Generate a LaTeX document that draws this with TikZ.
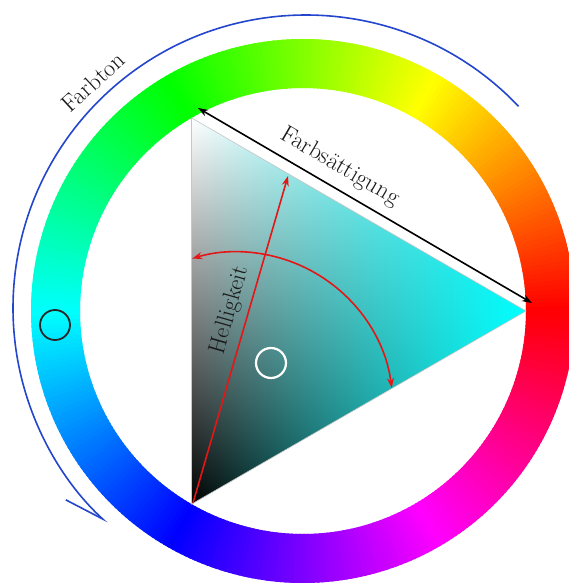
\documentclass[tikz,border=0pt]{standalone}
\usetikzlibrary{arrows.meta}
\definecolor{arcblue}{RGB}{35,70,205}
\definecolor{mred}{RGB}{228,22,22}
\begin{document}
\begin{tikzpicture}[x=1bp,y=1bp,
  lbl/.style={font=\fontsize{24}{28}\selectfont, inner sep=0pt, text=black!90},
  redarrow/.style={draw=mred, line width=1.6bp, >={Stealth[length=10bp,width=7bp]}},
  blackarrow/.style={draw=black, line width=1.6bp, >={Stealth[length=10bp,width=7bp]}},
  marker/.style={circle, minimum size=30bp, inner sep=0pt}]
\clip (-303,-273) rectangle (266,311);
\fill[white] (-303,-273) rectangle (266,311);
% hue ring
\foreach \a in {0,...,359}{
  \definecolor{hc}{Hsb}{\a,1,1}
  \fill[hc] (\a:223) arc[start angle=\a, end angle=\a+1.6, radius=223]
     -- (\a+1.6:272) arc[start angle=\a+1.6, end angle=\a, radius=272] -- cycle;
}
% triangle
\coordinate (W) at (120:223);
\coordinate (K) at (240:223);
\coordinate (C) at (0:223);
\begin{scope}
  \clip (W) -- (C) -- (K) -- cycle;
  \foreach \i in {0,...,167}{
    \pgfmathsetmacro\xx{-111.5+2*\i}
    \pgfmathsetmacro\tt{min(1,(2*\i+1)/334.5)}
    \pgfmathsetmacro\rr{1-\tt}
    \definecolor{tc}{rgb}{\rr,1,1}
    \definecolor{bc}{rgb}{0,\tt,\tt}
    \shade[top color=tc, bottom color=bc] (\xx,-193.2) rectangle (\xx+2.6,193.2);
  }
\end{scope}
\draw[gray!45, line width=0.6bp] (W) -- (C) -- (K) -- cycle;
% Farbton arc
\coordinate (hs) at ([shift={(3,3)}]43.5:293);
\draw[arcblue, line width=1.6bp, -{Straight Barb[harpoon,swap,length=40bp,width=22bp]}]
  (hs) arc[start angle=43.5, end angle=227.2, radius=293];
\node[lbl, rotate=42.6] (farbton) at (-210,229) {Farbton};
% saturation
\coordinate (sa) at (-105,203);
\coordinate (sb) at (229,8);
\draw[blackarrow, <->] (sa) -- (sb);
\node[lbl, rotate=-30.3] (farbs) at (37,144) {Farbsättigung};
% lightness
\coordinate (la) at (-110,-192);
\coordinate (lb) at (-15,135);
\draw[redarrow, ->] (la) -- (lb);
\node[lbl, rotate=74] (hell) at (-73,1) {Helligkeit};
% arc across triangle
\coordinate (ra) at (88.7,-77);
\draw[redarrow, <->] (ra) arc[start angle=7.35, end angle=106.7, radius=156];
% markers
\node[marker, draw=black!85, line width=1.8bp] (m1) at (-248,-14) {};
\node[marker, draw=white, line width=2.2bp] (m2) at (-32,-52) {};
\end{tikzpicture}
\end{document}
